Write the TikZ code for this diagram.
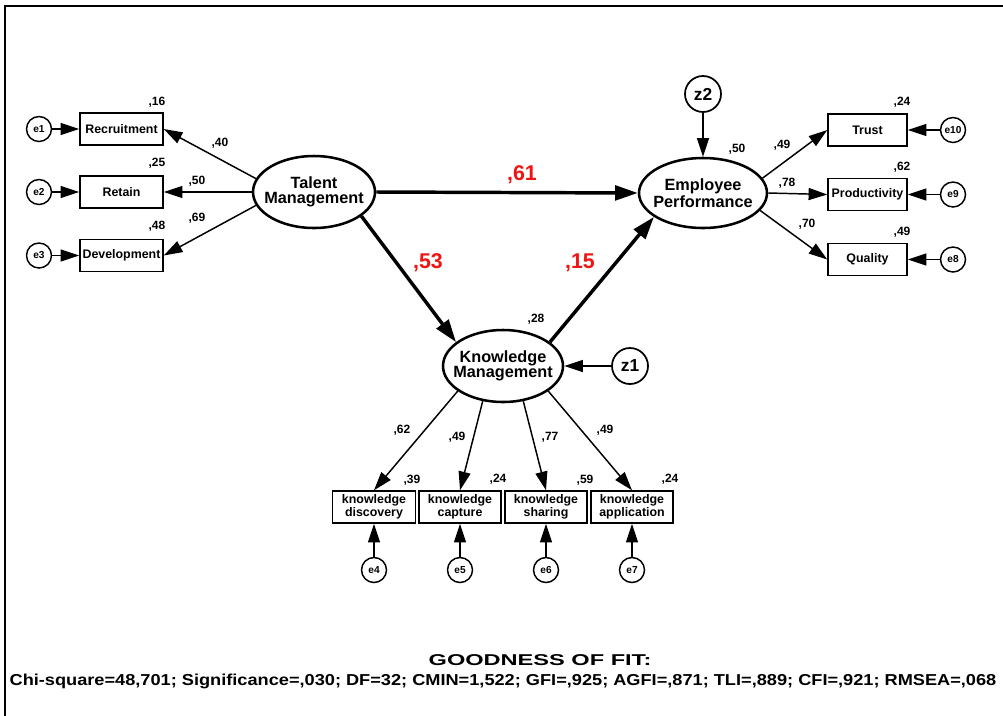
\documentclass[tikz,border=0pt]{standalone}
\usepackage{fontspec}
\setmainfont{Liberation Sans}
\usetikzlibrary{arrows.meta,shapes.geometric}
\definecolor{pathred}{RGB}{240,20,20}
\newcommand{\zl}[1]{\makebox[0pt]{#1}}
\begin{document}
\begin{tikzpicture}[x=0.75pt,y=-0.75pt,
  latent/.style={ellipse,draw,line width=1.9pt,inner sep=0pt,align=center,font=\fontsize{12.2}{11}\selectfont\bfseries},
  obs/.style={rectangle,draw,line width=1.1pt,inner sep=0pt,minimum height=24pt,align=center,font=\fontsize{9.3}{9.8}\selectfont\bfseries},
  err/.style={circle,draw,line width=1.1pt,inner sep=0pt,minimum size=18.75pt,font=\fontsize{7.6}{8}\selectfont\bfseries},
  dist/.style={circle,draw,line width=1.3pt,inner sep=0pt,minimum size=27pt,font=\fontsize{13}{13}\selectfont\bfseries},
  est/.style={inner sep=0pt,font=\fontsize{9}{9}\selectfont\bfseries},
  coef/.style={inner sep=0pt,text=pathred,font=\fontsize{16}{16}\selectfont\bfseries},
  thinarrow/.style={line width=1.1pt,-{Triangle[length=14pt,width=9pt]}},
  thickarrow/.style={line width=2.6pt,-{Triangle[length=17pt,width=11pt]}}]
\useasboundingbox (0,0) rectangle (1003,715);
\fill[white] (0,0) rectangle (1003,715);
% frame
\draw[line width=1.5pt] (5,720) -- (5,6) -- (1010,6);

% latent variables
\node[latent,minimum width=91.5pt,minimum height=54pt] (tm) at (314,192) {\zl{Talent}\\\zl{Management}};
\node[latent,minimum width=96pt,minimum height=52.5pt] (ep) at (703,193) {\zl{Employee}\\\zl{Performance}};
\node[latent,minimum width=90pt,minimum height=54pt] (km) at (503,366) {\zl{Knowledge}\\\zl{Management}};

% disturbances
\node[dist] (z2) at (703,94) {z2};
\node[dist] (z1) at (630,366) {z1};

% left indicators
\node[obs,minimum width=62.25pt] (rec) at (121.5,129) {Recruitment};
\node[obs,minimum width=62.25pt] (ret) at (121.5,192) {Retain};
\node[obs,minimum width=62.25pt] (dev) at (121.5,255.5) {Development};
\node[err] (e1) at (39,129) {e1};
\node[err] (e2) at (39,192) {e2};
\node[err] (e3) at (39,255.5) {e3};

% right indicators
\node[obs,minimum width=59.25pt] (tru) at (867.5,130) {Trust};
\node[obs,minimum width=59.25pt] (pro) at (867.5,194.5) {Productivity};
\node[obs,minimum width=59.25pt] (qua) at (867.5,259.5) {Quality};
\node[err] (e10) at (953,130) {e10};
\node[err] (e9) at (953,194.5) {e9};
\node[err] (e8) at (953,259.5) {e8};

% bottom indicators
\node[obs,minimum width=62.5pt] (kd) at (374,507) {knowledge\\discovery};
\node[obs,minimum width=61.5pt] (kc) at (460,507) {knowledge\\capture};
\node[obs,minimum width=61.5pt] (ks) at (546,507) {knowledge\\sharing};
\node[obs,minimum width=61.5pt] (ka) at (632,507) {knowledge\\application};
\node[err] (e4) at (374,570) {e4};
\node[err] (e5) at (460,570) {e5};
\node[err] (e6) at (546,570) {e6};
\node[err] (e7) at (632,570) {e7};

% structural paths
\draw[thickarrow] (tm.east) -- (ep.west);
\draw[thickarrow] (tm.333) -- (km.153);
\draw[thickarrow] (km.27) -- (ep.206);
\draw[thinarrow] (z2) -- (ep);
\draw[thinarrow] (z1) -- (km);

% measurement paths
\draw[thinarrow] (tm.167) -- (rec.east);
\draw[thinarrow] (tm.180) -- (ret.east);
\draw[thinarrow] (tm.193) -- (dev.east);
\draw[thinarrow] (e1) -- (rec);
\draw[thinarrow] (e2) -- (ret);
\draw[thinarrow] (e3) -- (dev);

\draw[thinarrow] (ep.14) -- (tru.west);
\draw[thinarrow] (ep.east) -- (pro.west);
\draw[thinarrow] (ep.343) -- (qua.west);
\draw[thinarrow] (e10) -- (tru);
\draw[thinarrow] (e9) -- (pro);
\draw[thinarrow] (e8) -- (qua);

\draw[thinarrow] (km.209) -- (kd.north);
\draw[thinarrow] (km.240) -- (kc.north);
\draw[thinarrow] (km.300) -- (ks.north);
\draw[thinarrow] (km.331) -- (ka.north);
\draw[thinarrow] (e4) -- (kd);
\draw[thinarrow] (e5) -- (kc);
\draw[thinarrow] (e6) -- (ks);
\draw[thinarrow] (e7) -- (ka);

% estimates
\node[est] (l16) at (157,102) {,16};
\node[est] (l25) at (157,163) {,25};
\node[est] (l48) at (157,226) {,48};
\node[est] (l40) at (220,143) {,40};
\node[est] (l50a) at (197,181) {,50};
\node[est] (l69) at (197,218) {,69};

\node[est] (l50b) at (737,149) {,50};
\node[est] (l49a) at (782,145) {,49};
\node[est] (l78) at (787,183) {,78};
\node[est] (l70) at (807,224) {,70};
\node[est] (l24a) at (902,102) {,24};
\node[est] (l62a) at (902,167) {,62};
\node[est] (l49b) at (902,232) {,49};

\node[coef] (c61) at (522,175) {,61};
\node[coef] (c53) at (428,263) {,53};
\node[coef] (c15) at (580,263) {,15};

\node[est] (l28) at (536,319) {,28};
\node[est] (l62b) at (402,430) {,62};
\node[est] (l49c) at (457,437) {,49};
\node[est] (l77) at (550,437) {,77};
\node[est] (l49d) at (605,430) {,49};
\node[est] (l39) at (412,480) {,39};
\node[est] (l24b) at (498,479) {,24};
\node[est] (l59) at (585,480) {,59};
\node[est] (l24c) at (670,479) {,24};

% goodness of fit
\node[inner sep=0pt,font=\bfseries] (gof) at (540,660) {\resizebox{167pt}{8.2pt}{GOODNESS OF FIT:}};
\node[inner sep=0pt,font=\bfseries] (fit) at (503,681) {\resizebox{740pt}{8.6pt}{Chi-square=48,701; Significance=,030; DF=32; CMIN=1,522; GFI=,925; AGFI=,871; TLI=,889; CFI=,921; RMSEA=,068}};
\end{tikzpicture}
\end{document}
